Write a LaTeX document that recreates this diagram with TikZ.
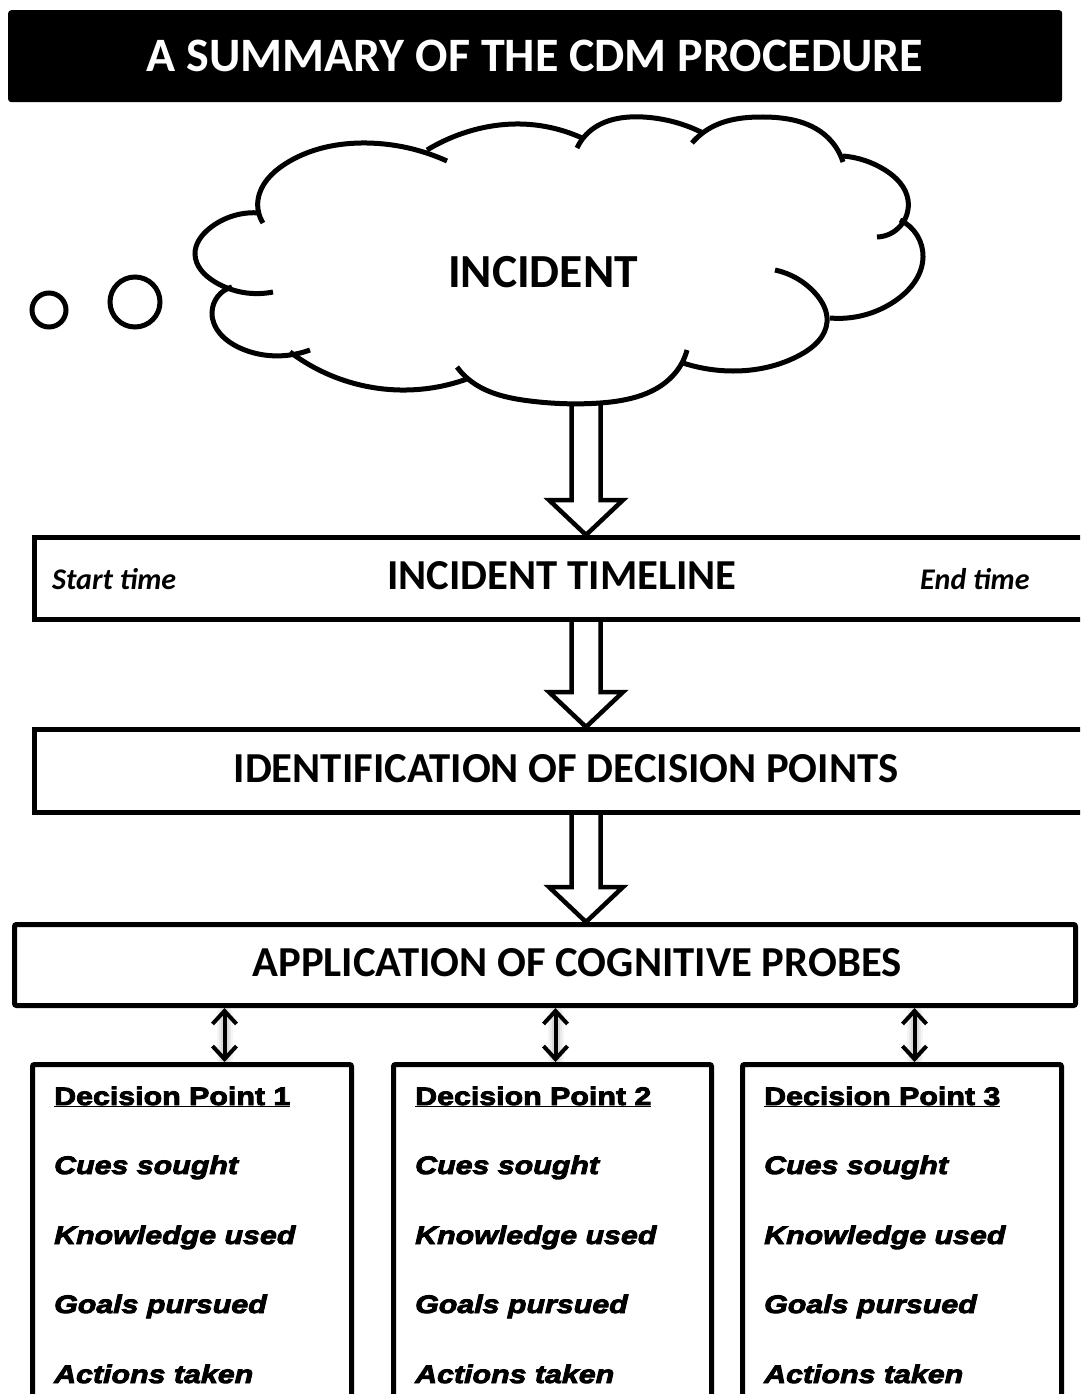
\documentclass[tikz,border=0pt]{standalone}
\usepackage{fontspec}
\setmainfont{Carlito}
\newfontfamily\blk{Liberation Sans Bold}[FakeStretch=1.2,FakeBold=3.5]
\newfontfamily\blkit{Liberation Sans Bold Italic}[FakeStretch=1.2,FakeBold=3.5]
\usetikzlibrary{arrows.meta,calc,hobby}

% hollow block arrow running down from #1 to the tip at #2
\newcommand{\blockarrow}[2]{%
  \draw[fatarrow] let \p1=(#1), \p2=(#2) in
    (\x1-14.5pt,\y1) -- (\x1-14.5pt,\y2+35pt) -- (\x1-37pt,\y2+35pt) -- (\x1,\y2)
    -- (\x1+37pt,\y2+35pt) -- (\x1+14.5pt,\y2+35pt) -- (\x1+14.5pt,\y1);}

\begin{document}
\begin{tikzpicture}[x=1pt,y=-1pt,
  frame/.style={draw=black, line width=5pt, inner sep=0pt, anchor=north west},
  heavy/.style={line width=5pt, use Hobby shortcut},
  fatarrow/.style={draw, line width=4.5pt, line join=miter},
  dblarrow/.style={line width=4pt,
    {Straight Barb[length=13pt,width=24pt]}-{Straight Barb[length=13pt,width=24pt]}},
  glow/.style={draw=black, draw opacity=#1, line cap=round},
  caps/.style={font=\bfseries\fontsize{42.7}{48}\selectfont, anchor=base, inner sep=0pt},
  timetext/.style={font=\bfseries\itshape\fontsize{30}{34}\selectfont, anchor=base west, inner sep=0pt},
  dphead/.style={font=\blk\fontsize{25.3}{30}\selectfont, anchor=base west, inner sep=0pt},
  dpitem/.style={font=\blkit\fontsize{25.3}{30}\selectfont, anchor=base west, inner sep=0pt}
]
\useasboundingbox (0,0) rectangle (1080,1394);
\clip (0,0) rectangle (1080,1394);

% title bar
\node[fill=black, rounded corners=3pt, minimum width=1054pt, minimum height=92pt,
      anchor=north west, inner sep=0pt] (bar) at (8,10) {};
\node[font=\bfseries\fontsize{48}{54}\selectfont, text=white, anchor=base, inner sep=0pt]
      (title) at (535,72) {A SUMMARY OF THE CDM PROCEDURE};

% thought cloud, drawn lobe by lobe
\begin{scope}[heavy]
\draw (263,223) .. (258,200) .. (285,164) .. (367,143) .. (447,161);
\draw (427,150) .. (470,131) .. (520,124) .. (582,138);
\draw (577,148) .. (590,131) .. (643,117) .. (703,133);
\draw (692,143) .. (712,127) .. (763,117) .. (825,135) .. (843,162);
\draw (843,156) .. (885,170) .. (908,200) .. (877,237);
\draw (900,220) .. (923,257) .. (895,301) .. (830,318);
\draw (775,270) .. (815,293) .. (827,322) .. (800,355) .. (733,371) .. (683,363);
\draw (687,350) .. (676,372) .. (600,403) .. (530,401) .. (467,378) .. (457,367);
\draw (290,352) .. (340,379) .. (400,390) .. (467,379);
\draw (232,287) .. (212,313) .. (240,348) .. (290,355) .. (310,350);
\draw (260,213) .. (210,228) .. (195,254) .. (215,282) .. (273,292);
\end{scope}
\draw[line width=5pt] (49,310) circle (17);
\draw[line width=5pt] (135,302) circle (25);
\node[font=\bfseries\fontsize{47.5}{52}\selectfont, anchor=base, inner sep=0pt] (incident) at (543,287) {INCIDENT};
\coordinate (cloudbot) at (586,402);

% process boxes
\node[frame, minimum width=1060pt, minimum height=82pt] (timeline) at (32,535) {};
\node[caps] (timelinetext) at (562,589) {INCIDENT TIMELINE};
\node[timetext] (start) at (52,589) {Start time};
\node[timetext] (end) at (920,589) {End time};

\node[frame, minimum width=1068pt, minimum height=83pt] (ident) at (32,727) {};
\node[caps] (identtext) at (566,782) {IDENTIFICATION OF DECISION POINTS};

\node[frame, minimum width=1061pt, minimum height=81pt, rounded corners=2pt] (probes) at (12,922) {};
\node[caps] (probestext) at (577,976) {APPLICATION OF COGNITIVE PROBES};

% hollow block arrows between the stages
\blockarrow{cloudbot}{cloudbot |- timeline.north}
\blockarrow{cloudbot |- timeline.south}{cloudbot |- ident.north}
\blockarrow{cloudbot |- ident.south}{cloudbot |- probes.north}

% decision point panels
\node[frame, minimum width=319pt, minimum height=380pt, rounded corners=2pt] (dp1) at (30,1062) {};
\node[frame, minimum width=318pt, minimum height=380pt, rounded corners=2pt] (dp2) at (391,1062) {};
\node[frame, minimum width=319pt, minimum height=380pt, rounded corners=2pt] (dp3) at (740,1062) {};

\coordinate (a1) at ($(dp1.north)+(32.5,0)$);
\coordinate (a2) at ($(dp2.north)+(3,0)$);
\coordinate (a3) at ($(dp3.north)+(12.5,0)$);
% soft glow behind the two-way arrows
\foreach \a in {a1,a2,a3} {
  \foreach \w/\o in {16/0.04,12/0.05,8/0.07} {
    \draw[glow=\o, line width=\w pt] ($(probes.south -| \a)+(0,6)$) -- ($(\a)+(0,-3)$);
  }
}
\foreach \a in {a1,a2,a3} {
  \draw[dblarrow] (probes.south -| \a) -- (\a);
}

\foreach \b/\n in {dp1/1,dp2/2,dp3/3} {
  \node[dphead] (\b head) at ($(\b.north west)+(24,43)$) {\underline{Decision Point \n}};
  \node[dpitem] (\b cues) at ($(\b.north west)+(24,112)$) {Cues sought};
  \node[dpitem] (\b know) at ($(\b.north west)+(24,182)$) {Knowledge used};
  \node[dpitem] (\b goals) at ($(\b.north west)+(24,251)$) {Goals pursued};
  \node[dpitem] (\b acts) at ($(\b.north west)+(24,321)$) {Actions taken};
}
\end{tikzpicture}
\end{document}
